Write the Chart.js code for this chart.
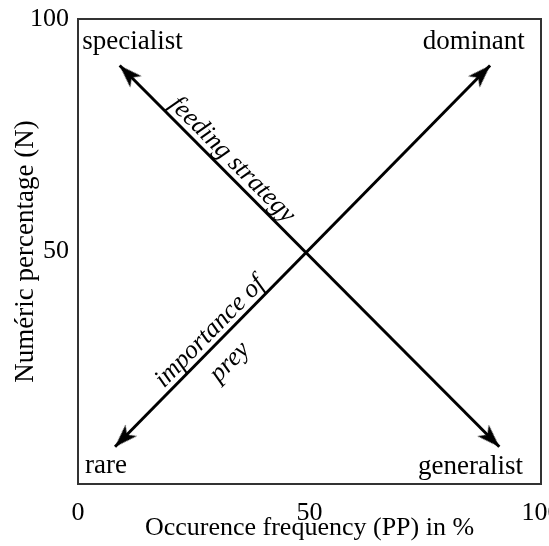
<!DOCTYPE html>
<html>
<head>
<meta charset="utf-8">
<script src="https://cdn.jsdelivr.net/npm/chart.js@4.4.1/dist/chart.umd.min.js"></script>
<style>
  html, body { margin: 0; padding: 0; background: #fff; }
  #wrap { width: 549px; height: 546px; }
</style>
</head>
<body>
<div id="wrap"><canvas id="grafico" width="549" height="546"></canvas></div>
<script>
// valores dos eixos
const xTicks = [0, 50, 100];
const yTicks = [50, 100];

// as duas diagonais (inicio e fim de cada seta)
const feedingX = [9, 91];
const feedingY = [90, 8];
const preyX = [8, 89];
const preyY = [8, 90];

// textos
const cornerNames = ['specialist', 'dominant', 'rare', 'generalist'];
const feedingLabel = ['feeding strategy'];
const preyLabel = ['importance of', 'prey'];

// onde cada texto fica (em unidades do grafico)
const cornerPos = [
  { x: 0.9, y: 93.5, align: 'left' },
  { x: 96.5, y: 93.5, align: 'right' },
  { x: 1.5, y: 2.4, align: 'left' },
  { x: 96.1, y: 2.2, align: 'right' }
];
const feedingPos = [{ x: 33.3, y: 69.7 }];
const preyPos = [{ x: 28.5, y: 32.7 }, { x: 32.8, y: 26.2 }];

const serif = "'Liberation Serif', 'DejaVu Serif', serif";
Chart.defaults.font.family = serif;
Chart.defaults.color = '#000';

// ponta de seta desenhada num canvas pequeno (a ponta fica no centro)
function criarSeta() {
  const c = document.createElement('canvas');
  c.width = 20;
  c.height = 52;
  const g = c.getContext('2d');
  g.fillStyle = '#000';
  g.beginPath();
  g.moveTo(10, 26);
  g.lineTo(2, 49);
  g.lineTo(10, 43);
  g.lineTo(18, 49);
  g.closePath();
  g.fill();
  return c;
}
const seta = criarSeta();

// gira a seta na direcao da linha
function rotacao(ctx) {
  const ds = ctx.dataset.data;
  const i = ctx.dataIndex;
  const a = ds[i], b = ds[1 - i];
  const sx = ctx.chart.scales.x, sy = ctx.chart.scales.y;
  const dx = sx.getPixelForValue(a.x) - sx.getPixelForValue(b.x);
  const dy = sy.getPixelForValue(a.y) - sy.getPixelForValue(b.y);
  return Math.atan2(dx, -dy) * 180 / Math.PI;
}

function pontos(xs, ys) {
  return xs.map((v, i) => ({ x: v, y: ys[i] }));
}

// moldura
const moldura = {
  id: 'moldura',
  beforeDatasetsDraw(chart) {
    const { ctx, chartArea: a } = chart;
    ctx.save();
    ctx.strokeStyle = '#333';
    ctx.lineWidth = 2;
    ctx.strokeRect(a.left, a.top, a.right - a.left, a.bottom - a.top);
    ctx.restore();
  }
};

// textos dos cantos e das diagonais
const textos = {
  id: 'textos',
  afterDatasetsDraw(chart) {
    const { ctx, scales: { x, y } } = chart;
    ctx.save();
    ctx.fillStyle = '#000';
    ctx.font = '27px ' + serif;
    ctx.textBaseline = 'alphabetic';
    cornerNames.forEach((t, i) => {
      ctx.textAlign = cornerPos[i].align;
      ctx.fillText(t, x.getPixelForValue(cornerPos[i].x), y.getPixelForValue(cornerPos[i].y));
    });

    const angulo = (xs, ys) => Math.atan2(
      y.getPixelForValue(ys[1]) - y.getPixelForValue(ys[0]),
      x.getPixelForValue(xs[1]) - x.getPixelForValue(xs[0]));

    ctx.font = 'italic 26px ' + serif;
    ctx.textAlign = 'center';
    ctx.textBaseline = 'middle';
    const escrever = (lista, pos, ang) => {
      lista.forEach((t, i) => {
        ctx.save();
        ctx.translate(x.getPixelForValue(pos[i].x), y.getPixelForValue(pos[i].y));
        ctx.rotate(ang);
        ctx.fillText(t, 0, 0);
        ctx.restore();
      });
    };
    escrever(feedingLabel, feedingPos, angulo(feedingX, feedingY));
    escrever(preyLabel, preyPos, angulo(preyX, preyY));
    ctx.restore();
  }
};

const tickFont = { family: serif, size: 26 };

new Chart(document.getElementById('grafico'), {
  type: 'line',
  data: {
    datasets: [
      { data: pontos(feedingX, feedingY) },
      { data: pontos(preyX, preyY) }
    ]
  },
  options: {
    responsive: false,
    animation: false,
    events: [],
    layout: { padding: { top: 19, right: 8, bottom: 0, left: 0 } },
    plugins: { legend: { display: false }, tooltip: { enabled: false } },
    elements: {
      line: { borderColor: '#000', borderWidth: 3, tension: 0, borderCapStyle: 'butt' },
      point: { pointStyle: seta, radius: 5, rotation: rotacao }
    },
    scales: {
      x: {
        type: 'linear',
        min: 0,
        max: 100,
        afterBuildTicks: s => { s.ticks = xTicks.map(v => ({ value: v })); },
        afterFit: s => { s.height = 62; s.paddingLeft = 0; s.paddingRight = 0; },
        grid: { display: false, drawTicks: false },
        border: { display: false },
        ticks: { font: tickFont, color: '#000', padding: 14, maxRotation: 0, autoSkip: false },
        title: {
          display: true,
          text: 'Occurence frequency (PP) in %',
          font: { family: serif, size: 26 },
          color: '#000',
          padding: { top: 0, bottom: 2 }
        }
      },
      y: {
        type: 'linear',
        min: 0,
        max: 100,
        afterBuildTicks: s => { s.ticks = yTicks.map(v => ({ value: v })); },
        afterFit: s => { s.width = 78; s.paddingTop = 0; s.paddingBottom = 0; },
        grid: { display: false, drawTicks: false },
        border: { display: false },
        ticks: { font: tickFont, color: '#000', padding: 9, autoSkip: false },
        title: {
          display: true,
          text: 'Numéric percentage (N)',
          font: { family: serif, size: 27 },
          color: '#000',
          padding: { top: 10, bottom: 0 }
        }
      }
    }
  },
  plugins: [moldura, textos]
});
</script>
</body>
</html>
